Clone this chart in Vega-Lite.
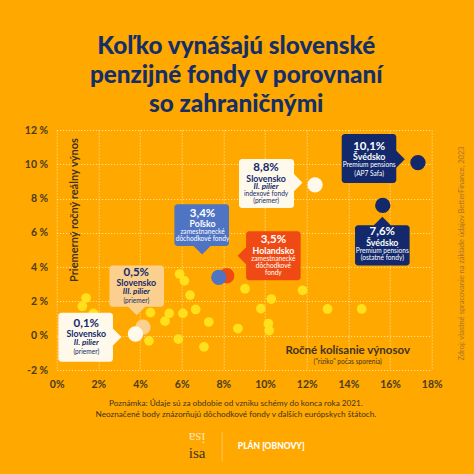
{"$schema":"https://vega.github.io/schema/vega-lite/v6.json","width":375,"height":240,"autosize":"none","padding":{"left":56.7,"top":130,"right":42.3,"bottom":104},"background":"#FFA800","view":{"stroke":null},"title":{"text":["Koľko vynášajú slovenské","penzijné fondy v porovnaní","so zahraničnými"],"font":"Lato","fontWeight":900,"fontSize":24.3,"lineHeight":28.7,"color":"#152F66","anchor":"middle","dx":-8,"offset":8},"config":{"font":"Lato"},"datasets":{"points":[{"risk":1.41,"ret":2.2,"group":"Iné"},{"risk":1.23,"ret":1.72,"group":"Iné"},{"risk":1.76,"ret":1.3,"group":"Iné"},{"risk":4.5,"ret":1.35,"group":"Iné"},{"risk":5.4,"ret":1.3,"group":"Iné"},{"risk":5.2,"ret":0.85,"group":"Iné"},{"risk":6.06,"ret":1.3,"group":"Iné"},{"risk":6.67,"ret":1.53,"group":"Iné"},{"risk":6.4,"ret":2.37,"group":"Iné"},{"risk":6.13,"ret":3.2,"group":"Iné"},{"risk":5.9,"ret":3.6,"group":"Iné"},{"risk":7.3,"ret":0.8,"group":"Iné"},{"risk":8.7,"ret":0.42,"group":"Iné"},{"risk":4.43,"ret":-0.3,"group":"Iné"},{"risk":5.84,"ret":-0.2,"group":"Iné"},{"risk":7.07,"ret":-0.65,"group":"Iné"},{"risk":9.04,"ret":2.74,"group":"Iné"},{"risk":11.8,"ret":2.65,"group":"Iné"},{"risk":10.3,"ret":2.14,"group":"Iné"},{"risk":9.8,"ret":1.58,"group":"Iné"},{"risk":13.0,"ret":1.56,"group":"Iné"},{"risk":14.64,"ret":1.56,"group":"Iné"},{"risk":10.16,"ret":0.7,"group":"Iné"},{"risk":10.2,"ret":0.3,"group":"Iné"},{"risk":4.14,"ret":0.5,"group":"Slovensko III"},{"risk":3.78,"ret":0.1,"group":"Slovensko II"},{"risk":8.16,"ret":3.5,"group":"Holandsko"},{"risk":7.78,"ret":3.4,"group":"Poľsko"},{"risk":12.4,"ret":8.8,"group":"Slovensko II index"},{"risk":17.34,"ret":10.1,"group":"Švédsko"},{"risk":15.65,"ret":7.6,"group":"Švédsko"}],"boxes":[{"group":"Poľsko","left":5.65,"right":8.27,"top":7.67,"bottom":5.23,"tipRisk":6.98,"tipRet":5.23},{"group":"Slovensko III","left":2.53,"right":5.15,"top":4.09,"bottom":1.69,"tipRisk":3.84,"tipRet":1.69},{"group":"Slovensko II","left":0.08,"right":2.7,"top":1.34,"bottom":-1.52,"tipRisk":2.7,"tipRet":-0.08},{"group":"Slovensko II index","left":8.75,"right":11.39,"top":10.31,"bottom":7.45,"tipRisk":11.39,"tipRet":8.93},{"group":"Švédsko","left":13.68,"right":16.3,"top":11.77,"bottom":8.91,"tipRisk":16.3,"tipRet":10.29},{"group":"Švédsko","left":14.32,"right":16.94,"top":6.44,"bottom":4.09,"tipRisk":15.63,"tipRet":6.44},{"group":"Holandsko","left":9.09,"right":11.71,"top":6.09,"bottom":3.23,"tipRisk":9.09,"tipRet":4.67}],"texts":[{"t":"3,4%","k":"value","tone":"light","a":7.0,"b":7.12},{"t":"Poľsko","k":"name","tone":"light","a":7.0,"b":6.5},{"t":"zamestnanecké","k":"small","tone":"light","a":7.0,"b":6.05},{"t":"dôchodkové fondy","k":"small","tone":"light","a":7.0,"b":5.62},{"t":"0,5%","k":"value","tone":"dark","a":3.82,"b":3.66},{"t":"Slovensko","k":"name","tone":"dark","a":3.82,"b":3.09},{"t":"III. pilier","k":"italic","tone":"dark","a":3.82,"b":2.55},{"t":"(priemer)","k":"small","tone":"dark","a":3.82,"b":2.04},{"t":"0,1%","k":"value","tone":"dark","a":1.42,"b":0.68},{"t":"Slovensko","k":"name","tone":"dark","a":1.42,"b":0.12},{"t":"II. pilier","k":"italic","tone":"dark","a":1.42,"b":-0.43},{"t":"(priemer)","k":"small","tone":"dark","a":1.42,"b":-0.97},{"t":"8,8%","k":"value","tone":"dark","a":10.05,"b":9.77},{"t":"Slovensko","k":"name","tone":"dark","a":10.05,"b":9.16},{"t":"II. pilier","k":"italic","tone":"dark","a":10.05,"b":8.68},{"t":"indexové fondy","k":"small","tone":"dark","a":10.05,"b":8.26},{"t":"(priemer)","k":"small","tone":"dark","a":10.05,"b":7.85},{"t":"10,1%","k":"value","tone":"light","a":15.0,"b":10.99},{"t":"Švédsko","k":"name","tone":"light","a":15.0,"b":10.41},{"t":"Premium pensions","k":"small","tone":"light","a":15.0,"b":9.96},{"t":"(AP7 Safa)","k":"small","tone":"light","a":15.0,"b":9.42},{"t":"7,6%","k":"value","tone":"light","a":15.63,"b":6.03},{"t":"Švédsko","k":"name","tone":"light","a":15.63,"b":5.39},{"t":"Premium pensions","k":"small","tone":"light","a":15.63,"b":4.94},{"t":"(ostatné fondy)","k":"small","tone":"light","a":15.63,"b":4.53},{"t":"3,5%","k":"value","tone":"light","a":10.4,"b":5.58},{"t":"Holandsko","k":"name","tone":"light","a":10.4,"b":4.96},{"t":"zamestnanecké","k":"small","tone":"light","a":10.4,"b":4.49},{"t":"dôchodkové","k":"small","tone":"light","a":10.4,"b":4.07},{"t":"fondy","k":"small","tone":"light","a":10.4,"b":3.65},{"t":"(\"riziko\" počas sporenia)","k":"small","tone":"brown","a":13.97,"b":-1.56},{"t":"Ročné kolísanie výnosov","k":"axis","tone":"brown","a":13.97,"b":-0.9},{"t":"Poznámka: Údaje sú za obdobie od vzniku schémy do konca roka 2021.","k":"note","tone":"brown","a":8.6,"b":-3.98},{"t":"Neoznačené body znázorňujú dôchodkové fondy v ďalších európskych štátoch.","k":"note","tone":"brown","a":8.6,"b":-4.62},{"t":"PLÁN [OBNOVY]","k":"logo","tone":"light","a":10.3,"b":-6.43}]},"encoding":{"color":{"field":"group","type":"nominal","legend":null}},"layer":[{"data":{"name":"boxes"},"mark":{"type":"point","shape":"diamond","filled":true,"size":290,"opacity":1},"encoding":{"x":{"field":"tipRisk","type":"quantitative","scale":{"domain":[0,18],"nice":false,"zero":false},"axis":{"values":[0,2,4,6,8,10,12,14,16,18],"tickCount":20,"labelExpr":"datum.value+'%'","title":null,"domain":false,"ticks":false,"grid":true,"gridColor":"#FFE9B8","gridDash":[1,2],"gridWidth":1,"labelFont":"Lato","labelFontWeight":"bold","labelFontSize":10.5,"labelColor":"#4A3A1E","labelPadding":9,"labelFlush":false,"labelOverlap":false}},"y":{"field":"tipRet","type":"quantitative","scale":{"domain":[-2,12],"nice":false,"zero":false},"axis":{"values":[-2,0,2,4,6,8,10,12],"tickCount":20,"labelExpr":"datum.value+' %'","title":null,"domain":false,"ticks":false,"grid":true,"gridColor":"#FFE9B8","gridDash":[1,2],"gridWidth":1,"labelFont":"Lato","labelFontWeight":"bold","labelFontSize":10.5,"labelColor":"#4A3A1E","labelPadding":9,"labelOverlap":false,"labelFlush":false}},"color":{"field":"group","type":"nominal","legend":null,"scale":{"domain":["Iné","Slovensko III","Slovensko II","Slovensko II index","Holandsko","Poľsko","Švédsko","dark","light","brown"],"range":["#FFE01B","#FBD08F","#FFF9EC","#FFF9EC","#F04A14","#4F74C4","#13296B","#13296B","#FFFFFF","#3F3322"]}}}},{"data":{"name":"points"},"transform":[{"filter":"datum.group==='Iné'"}],"mark":{"type":"circle","size":95,"opacity":1},"encoding":{"x":{"field":"risk","type":"quantitative"},"y":{"field":"ret","type":"quantitative"}}},{"data":{"name":"boxes"},"mark":{"type":"rect","cornerRadius":3},"encoding":{"x":{"field":"left","type":"quantitative"},"x2":{"field":"right"},"y":{"field":"top","type":"quantitative"},"y2":{"field":"bottom"}}},{"data":{"name":"points"},"transform":[{"filter":"datum.group!=='Iné'"}],"mark":{"type":"circle","size":235,"opacity":1},"encoding":{"x":{"field":"risk","type":"quantitative"},"y":{"field":"ret","type":"quantitative"}}},{"data":{"name":"texts"},"transform":[{"filter":"datum.k==='value'"}],"mark":{"type":"text","font":"Lato","fontWeight":"bold","fontSize":11.5,"baseline":"middle","align":"center"},"encoding":{"x":{"field":"a","type":"quantitative"},"y":{"field":"b","type":"quantitative"},"text":{"field":"t"},"color":{"field":"tone","type":"nominal","legend":null}}},{"data":{"name":"texts"},"transform":[{"filter":"datum.k==='name'"}],"mark":{"type":"text","font":"Lato","fontWeight":"bold","fontSize":8.8,"baseline":"middle","align":"center"},"encoding":{"x":{"field":"a","type":"quantitative"},"y":{"field":"b","type":"quantitative"},"text":{"field":"t"},"color":{"field":"tone","type":"nominal","legend":null}}},{"data":{"name":"texts"},"transform":[{"filter":"datum.k==='italic'"}],"mark":{"type":"text","font":"Lato","fontStyle":"italic","fontWeight":"bold","fontSize":8,"baseline":"middle","align":"center"},"encoding":{"x":{"field":"a","type":"quantitative"},"y":{"field":"b","type":"quantitative"},"text":{"field":"t"},"color":{"field":"tone","type":"nominal","legend":null}}},{"data":{"name":"texts"},"transform":[{"filter":"datum.k==='small'"}],"mark":{"type":"text","font":"Lato","fontSize":6.6,"baseline":"middle","align":"center"},"encoding":{"x":{"field":"a","type":"quantitative"},"y":{"field":"b","type":"quantitative"},"text":{"field":"t"},"color":{"field":"tone","type":"nominal","legend":null}}},{"data":{"name":"texts"},"transform":[{"filter":"datum.k==='axis'"}],"mark":{"type":"text","font":"Lato","fontWeight":"bold","fontSize":11.5,"baseline":"middle","align":"center"},"encoding":{"x":{"field":"a","type":"quantitative"},"y":{"field":"b","type":"quantitative"},"text":{"field":"t"},"color":{"field":"tone","type":"nominal","legend":null}}},{"data":{"name":"texts"},"transform":[{"filter":"datum.k==='note'"}],"mark":{"type":"text","font":"Lato","fontSize":8.2,"baseline":"middle","align":"center"},"encoding":{"x":{"field":"a","type":"quantitative"},"y":{"field":"b","type":"quantitative"},"text":{"field":"t"},"color":{"field":"tone","type":"nominal","legend":null}}},{"data":{"name":"texts"},"transform":[{"filter":"datum.k==='logo'"}],"mark":{"type":"text","font":"Lato","fontWeight":"900","fontSize":8.5,"baseline":"middle","align":"center"},"encoding":{"x":{"field":"a","type":"quantitative"},"y":{"field":"b","type":"quantitative"},"text":{"field":"t"},"color":{"field":"tone","type":"nominal","legend":null}}},{"data":{"values":[{"t":"Priemerný ročný reálny výnos","a":0.88,"b":7.33}]},"mark":{"type":"text","font":"Lato","fontWeight":"bold","fontSize":11,"angle":270,"baseline":"middle","align":"center"},"encoding":{"x":{"field":"a","type":"quantitative"},"y":{"field":"b","type":"quantitative"},"text":{"field":"t"},"color":{"value":"#3F3322"}}},{"data":{"values":[{"t":"Zdroj: vlastné spracovanie na základe údajov BetterFinance, 2023","a":19.44,"b":4.8}]},"mark":{"type":"text","font":"Lato","fontSize":7.5,"angle":270,"baseline":"middle","align":"center"},"encoding":{"x":{"field":"a","type":"quantitative"},"y":{"field":"b","type":"quantitative"},"text":{"field":"t"},"color":{"value":"#A9742A"}}},{"data":{"values":[{"t":"isa","a":6.74,"b":-6.83}]},"mark":{"type":"text","font":"Liberation Serif","fontSize":15,"baseline":"middle","align":"center"},"encoding":{"x":{"field":"a","type":"quantitative"},"y":{"field":"b","type":"quantitative"},"text":{"field":"t"},"color":{"value":"#3F3322"}}},{"data":{"values":[{"t":"isa","a":6.74,"b":-5.95}]},"mark":{"type":"text","font":"Liberation Serif","fontSize":15,"angle":180,"baseline":"middle","align":"center"},"encoding":{"x":{"field":"a","type":"quantitative"},"y":{"field":"b","type":"quantitative"},"text":{"field":"t"},"color":{"value":"#FFE3B0"}}},{"data":{"values":[{"a":7.94,"b":-5.6,"c":-7.3}]},"mark":{"type":"rule"},"encoding":{"x":{"field":"a","type":"quantitative"},"y":{"field":"b","type":"quantitative"},"y2":{"field":"c"},"color":{"value":"#FFC65C"}}}]}
